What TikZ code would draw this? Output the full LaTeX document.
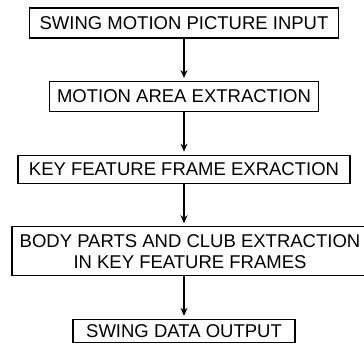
\documentclass[tikz,border=0pt]{standalone}
\usepackage{fontspec}
\setmainfont{Liberation Sans}
\usetikzlibrary{positioning,arrows.meta}
\tikzstyle{flow} = [draw,line width=1.3pt,-{Stealth[length=8pt,width=7pt]},shorten >=3pt]

\begin{document}
\begin{tikzpicture}
		[
		x=1pt,y=1pt,
		block/.style={
		draw,
		rectangle,
		line width=1.1pt,
		inner sep=1pt,
		text centered,
		font=\fontsize{18.5}{21}\selectfont},
		node distance=42.5pt
		]
		\useasboundingbox (0,0) rectangle (364,-347);
		\node[block,minimum width=309pt,minimum height=30pt](picture_input) at (184,-23) {SWING MOTION PICTURE INPUT};
		\node[block,minimum width=269pt,minimum height=30pt,below=of picture_input](area_extraction) {MOTION AREA EXTRACTION};
		\node[block,minimum width=332pt,minimum height=28pt,below=of area_extraction](key_frame) {KEY FEATURE FRAME EXRACTION};
		\node[block,minimum width=356pt,minimum height=49pt,align=center,below=of key_frame,xshift=6pt](body_parts) {BODY PARTS AND CLUB EXTRACTION\\IN KEY FEATURE FRAMES};
		\node[block,minimum width=222pt,minimum height=23pt,below=of body_parts,xshift=-6pt](data_output) {SWING DATA OUTPUT};
		\draw[flow] (picture_input) -- (area_extraction);
		\draw[flow] (area_extraction) -- (key_frame);
		\draw[flow] (key_frame) -- (key_frame |- body_parts.north);
		\draw[flow] (body_parts.south -| data_output) -- (data_output);
		\end{tikzpicture}
\end{document}
